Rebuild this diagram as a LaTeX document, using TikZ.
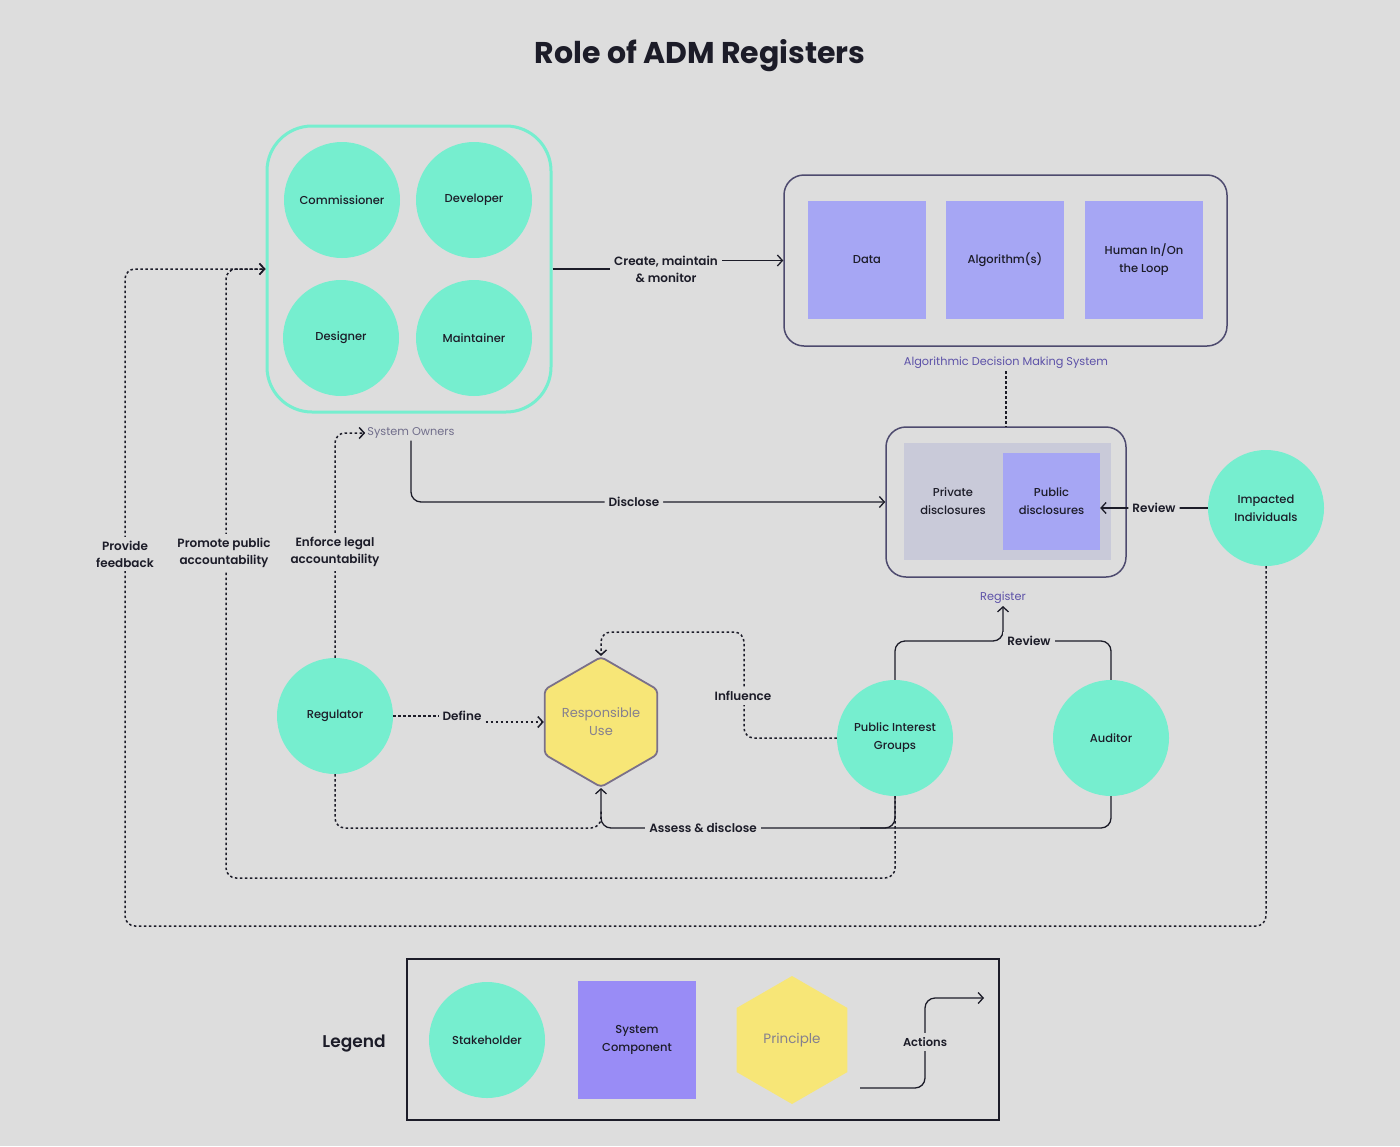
\documentclass[tikz,border=0pt]{standalone}
\usepackage{fontspec}
\setmainfont{Poppins}
\newfontfamily\medfont{Poppins SemiBold}
\newfontfamily\nodefont{Poppins Medium}
\usetikzlibrary{shapes.geometric,arrows.meta}
\definecolor{bg}{HTML}{DDDDDD}
\definecolor{teal}{HTML}{76EECF}
\definecolor{purp}{HTML}{A6A6F4}
\definecolor{legpurp}{HTML}{998CF6}
\definecolor{yel}{HTML}{F7E677}
\definecolor{ink}{HTML}{1C1C28}
\definecolor{boxline}{HTML}{4D4A6E}
\definecolor{lblpurp}{HTML}{5D52A8}
\definecolor{greytext}{HTML}{85808F}
\definecolor{regin}{HTML}{C9CAD9}
\definecolor{hexline}{HTML}{7A708A}
\tikzset{
  stake/.style={circle, fill=teal, minimum size=116pt, inner sep=0pt, align=center,
    font=\nodefont\fontsize{11.5}{18}\selectfont, text=ink},
  comp/.style={rectangle, fill=purp, minimum size=118pt, inner sep=0pt, align=center,
    font=\nodefont\fontsize{11.5}{18}\selectfont, text=ink},
  lbl/.style={fill=bg, inner sep=4pt, align=center, font=\medfont\fontsize{12}{17}\selectfont, text=ink},
  small/.style={inner sep=2pt, font=\fontsize{11.3}{13}\selectfont},
  solidcon/.style={draw=ink, line width=1.3pt, rounded corners=10pt},
  dotcon/.style={draw=ink, line width=1.5pt, dash pattern=on 2.5pt off 2.5pt, rounded corners=10pt},
  arr/.style={-{Straight Barb[length=5pt,width=11pt]}},
  hexa/.style={regular polygon, regular polygon sides=6, shape border rotate=30,
    minimum size=130pt, inner sep=0pt, align=center, fill=yel,
    font=\fontsize{13}{18}\selectfont, text=greytext}
}
\begin{document}
\begin{tikzpicture}[x=1pt,y=-1pt]
\fill[bg] (0,0) rectangle (1400,1146);
\useasboundingbox (0,0) rectangle (1400,1146);

% title
\node[font=\bfseries\fontsize{30}{34}\selectfont, text=ink] (title) at (700,56) {Role of ADM Registers};

% system owners
\node[draw=teal, line width=3pt, rounded corners=45pt, minimum width=284pt, minimum height=286pt] (owners) at (409,269) {};
\node[stake] (comm) at (342,200) {Commissioner};
\node[stake] (dev) at (474,200) {Developer};
\node[stake] (des) at (341,338) {Designer};
\node[stake] (maint) at (474,338) {Maintainer};
\node[small, text=boxline!80] (so) at (411,433) {System Owners};

% ADS
\node[draw=boxline, line width=1.5pt, rounded corners=20pt, minimum width=443pt, minimum height=171pt] (ads) at (1005.5,260.5) {};
\node[comp] (data) at (867,260) {Data};
\node[comp] (algo) at (1005,260) {Algorithm(s)};
\node[comp] (human) at (1144,260) {Human In/On\\the Loop};
\node[small, text=lblpurp] (adslbl) at (1006,363) {Algorithmic Decision Making System};

% Register
\node[draw=boxline, line width=1.5pt, rounded corners=20pt, minimum width=240pt, minimum height=150pt] (regbox) at (1006,502) {};
\node[fill=regin, minimum width=207pt, minimum height=117pt, inner sep=0pt] (reginner) at (1007.5,501.5) {};
\node[align=center, font=\nodefont\fontsize{11.5}{18}\selectfont, text=ink] (priv) at (953,501) {Private\\disclosures};
\node[comp, minimum size=97pt] (pub) at (1051.5,501.5) {Public\\disclosures};
\node[small, text=lblpurp] (reglbl) at (1003,598) {Register};

% stakeholders
\node[stake] (imp) at (1266,508) {Impacted\\Individuals};
\node[stake] (regu) at (335,716) {Regulator};
\node[stake] (pig) at (895,738) {Public Interest\\Groups};
\node[stake] (aud) at (1111,738) {Auditor};
\node[hexa, draw=hexline, line width=1.8pt, rounded corners=4pt] (ru) at (601,722) {Responsible\\Use};

% create, maintain & monitor
\node[lbl] (lcm) at (666,269) {Create, maintain\\\& monitor};
\draw[solidcon] (owners.east) -- (lcm.west);
\draw[solidcon, arr] (lcm.east |- ads.west) -- (ads.west);

\draw[dotcon] (adslbl.south) -- (regbox.north);
\draw[solidcon, arr] (so.south) -- (411,502) -- node[lbl, pos=0.47] {Disclose} (regbox.west);
\draw[solidcon, arr] (imp.west) -- node[lbl] {Review} (imp.west -| pub.east);

% dotted left loops
\draw[dotcon, arr] (imp.south) -- (1266,926) -- (125,926) -- (125,269) -- (owners.west);
\draw[dotcon, arr] (pig.south) -- (895,878) -- (226,878) -- (226,269) -- (owners.west);
\draw[dotcon, arr] (regu.north) -- (335,433) -- (so.west);
\node[lbl] (lpf) at (125,554) {Provide\\feedback};
\node[lbl] (lpp) at (224,553) {Promote public\\accountability};
\node[lbl] (lel) at (335,552) {Enforce legal\\accountability};

% define / influence
\node[lbl] (ldef) at (462,716) {Define};
\draw[dotcon] (regu.east) -- (ldef.west);
\draw[dotcon, arr] (ldef.east |- ru.west) -- (ru.west);
\draw[dotcon, arr] (pig.west) -- (744,738) -- (744,632) -- (601,632) -- (ru.north);
\node[lbl] (linf) at (743,696) {Influence};

% assess & disclose
\draw[dotcon] (regu.south) -- (335,828) -- (601,828) -- (601,810);
\draw[solidcon, arr] (aud.south) -- (1111,828) -- (601,828) -- (ru.south);
\draw[solidcon] (pig.south) -- (895,828) -- (860,828);
\node[lbl] (lad) at (703,828) {Assess \& disclose};

% review upward
\draw[solidcon, arr] (pig.north) -- (895,641) -- (1003,641) -- (reglbl.south);
\draw[solidcon] (aud.north) -- (1111,641) -- (1003,641);
\node[lbl] (lrev) at (1029,641) {Review};

% legend
\node[draw=ink, line width=1.5pt, minimum width=592pt, minimum height=161pt, inner sep=0pt] (legend) at (703,1039.5) {};
\node[font=\medfont\fontsize{17}{20}\selectfont, text=ink] (legtitle) at (354,1044) {Legend};
\node[stake] (lstake) at (487,1040) {Stakeholder};
\node[comp, fill=legpurp] (lcomp) at (637,1040) {System\\Component};
\node[hexa, minimum size=128pt, font=\fontsize{13.5}{18}\selectfont] (lprin) at (792,1040) {Principle};
\coordinate (act1) at (860,1088);
\coordinate (act2) at (984,998);
\draw[solidcon, arr] (act1) -- (925,1088) -- (925,998) -- (act2);
\node[lbl, font=\medfont\fontsize{11.5}{17}\selectfont] (lact) at (925,1042) {Actions};
\end{tikzpicture}
\end{document}
